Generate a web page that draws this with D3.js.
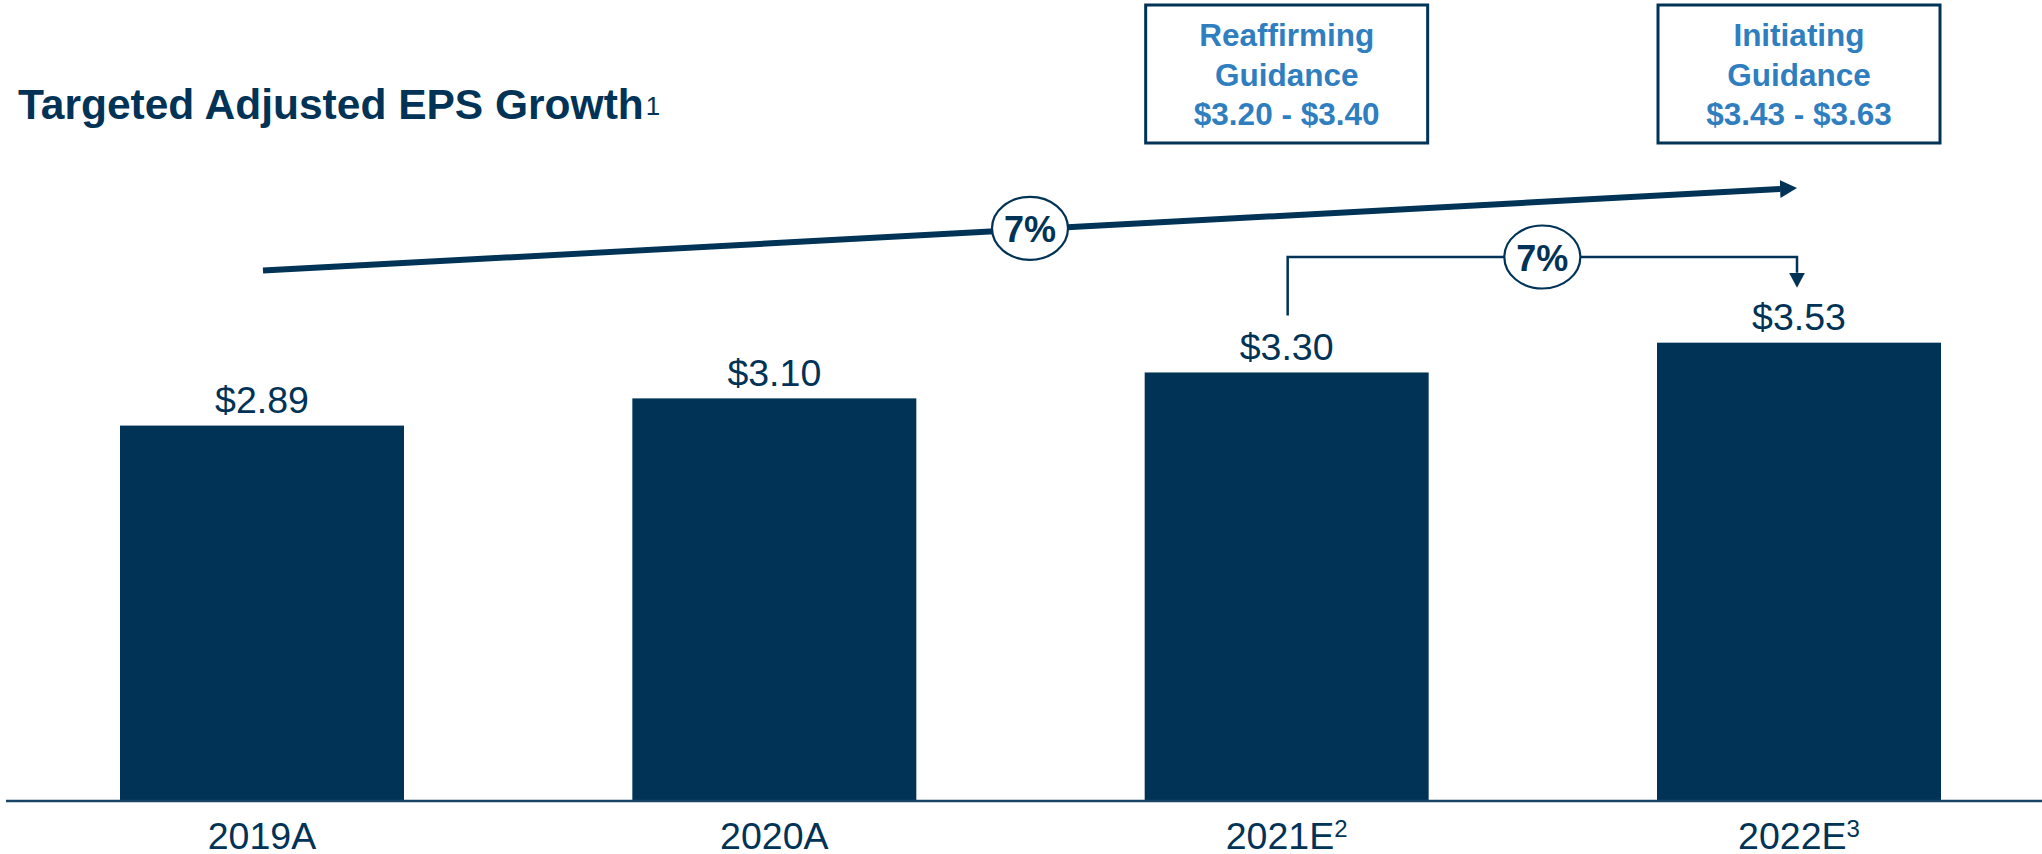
<!DOCTYPE html>
<html>
<head>
<meta charset="utf-8">
<script src="https://cdn.jsdelivr.net/npm/d3@7"></script>
<style>
  body { margin: 0; background: #fff; }
  svg { display: block; font-family: 'Liberation Sans', Arial, sans-serif; }
</style>
</head>
<body>
<svg id="chart"></svg>
<script>
// chart data
const years = ['2019A', '2020A', '2021E', '2022E'];
const yearNotes = ['', '', '2', '3'];
const eps = [2.89, 3.10, 3.30, 3.53];
const guidanceYears = ['2021E', '2022E'];
const guidanceTitles = ['Reaffirming', 'Initiating'];
const guidanceRanges = ['$3.20 - $3.40', '$3.43 - $3.63'];
const growthLabels = ['7%', '7%'];

(function() {

const width = 2042;
const height = 854;
const navy = '#013357';
const blue = '#2f7ec0';

const svg = d3.select('#chart')
  .attr('width', width)
  .attr('height', height);

const data = years.map((d, i) => ({ year: d, note: yearNotes[i], value: eps[i] }));

const x = d3.scaleBand()
  .domain(years)
  .range([120, 1941])
  .paddingInner(0.4457)
  .paddingOuter(0);

const y = d3.scaleLinear()
  .domain([0, 6.175])
  .range([800, 0]);

const cx = d => x(d) + x.bandwidth() / 2;

// title
const title = svg.append('text')
  .attr('x', 18)
  .attr('y', 119)
  .attr('fill', navy)
  .style('font-size', '42.5px')
  .style('font-weight', 'bold')
  .text('Targeted Adjusted EPS Growth');
title.append('tspan')
  .attr('dx', 2)
  .attr('dy', -4)
  .style('font-size', '26px')
  .style('font-weight', 'normal')
  .text('1');

// bars
svg.selectAll('.bar')
  .data(data)
  .enter().append('rect')
    .attr('class', 'bar')
    .attr('x', d => x(d.year))
    .attr('y', d => y(d.value))
    .attr('width', x.bandwidth())
    .attr('height', d => y(0) - y(d.value))
    .attr('fill', navy);

svg.selectAll('.value')
  .data(data)
  .enter().append('text')
    .attr('class', 'value')
    .attr('x', d => cx(d.year))
    .attr('y', d => y(d.value) - 12.5)
    .attr('text-anchor', 'middle')
    .attr('fill', navy)
    .style('font-size', '37.5px')
    .text(d => '$' + d.value.toFixed(2));

// baseline
svg.append('line')
  .attr('x1', 6)
  .attr('x2', width)
  .attr('y1', y(0) + 1)
  .attr('y2', y(0) + 1)
  .attr('stroke', '#1c4466')
  .attr('stroke-width', 2.5);

// category labels
const labels = svg.selectAll('.label')
  .data(data)
  .enter().append('text')
    .attr('class', 'label')
    .attr('x', d => cx(d.year))
    .attr('y', 849)
    .attr('text-anchor', 'middle')
    .attr('fill', navy)
    .style('font-size', '37.5px')
    .text(d => d.year);
labels.filter(d => d.note)
  .append('tspan')
    .attr('dy', -12)
    .style('font-size', '24px')
    .text(d => d.note);

// guidance boxes
const boxes = svg.selectAll('.guide')
  .data(guidanceYears)
  .enter().append('g')
    .attr('class', 'guide');

boxes.append('rect')
  .attr('x', d => x(d) + 1)
  .attr('y', 5)
  .attr('width', x.bandwidth() - 2)
  .attr('height', 138)
  .attr('fill', '#fff')
  .attr('stroke', navy)
  .attr('stroke-width', 3);

boxes.append('text')
  .attr('text-anchor', 'middle')
  .attr('fill', blue)
  .style('font-size', '31.5px')
  .style('font-weight', 'bold')
  .selectAll('tspan')
  .data((d, i) => [guidanceTitles[i], 'Guidance', guidanceRanges[i]].map(t => ({ t: t, year: d })))
  .enter().append('tspan')
    .attr('x', d => cx(d.year))
    .attr('y', (d, i) => 46 + i * 39.5)
    .text(d => d.t);

// arrow markers
const defs = svg.append('defs');
defs.append('marker')
  .attr('id', 'headBig')
  .attr('markerUnits', 'userSpaceOnUse')
  .attr('markerWidth', 20)
  .attr('markerHeight', 20)
  .attr('viewBox', '0 -10 20 20')
  .attr('refX', 0)
  .attr('refY', 0)
  .attr('orient', 'auto')
  .append('path')
    .attr('d', 'M0,-9L17,0L0,9Z')
    .attr('fill', navy);
defs.append('marker')
  .attr('id', 'headSmall')
  .attr('markerUnits', 'userSpaceOnUse')
  .attr('markerWidth', 20)
  .attr('markerHeight', 20)
  .attr('viewBox', '0 -10 20 20')
  .attr('refX', 0)
  .attr('refY', 0)
  .attr('orient', 'auto')
  .append('path')
    .attr('d', 'M0,-8L15,0L0,8Z')
    .attr('fill', navy);

// long-term growth arrow
const x0 = cx(years[0]) + 1;
const y0 = y(eps[0]) - 155;
const x1 = cx(years[3]) - 19;
const y1 = 189;
svg.append('line')
  .attr('x1', x0)
  .attr('y1', y0)
  .attr('x2', x1)
  .attr('y2', y1)
  .attr('stroke', navy)
  .attr('stroke-width', 6)
  .attr('marker-end', 'url(#headBig)');

// year-over-year bracket
const bx0 = cx(years[2]) + 1;
const bx1 = cx(years[3]) - 2;
const by = 257;
svg.append('path')
  .attr('d', `M${bx0},${y(eps[2]) - 57}V${by}H${bx1}V${y(eps[3]) - 70}`)
  .attr('fill', 'none')
  .attr('stroke', navy)
  .attr('stroke-width', 2.5)
  .attr('marker-end', 'url(#headSmall)');

// growth badges
const badges = [
  { cx: 1030, cy: 0, label: growthLabels[0] },
  { cx: (bx0 + bx1) / 2, cy: by, label: growthLabels[1] }
];
badges[0].cy = y0 + (y1 - y0) * (badges[0].cx - x0) / (x1 - x0) - 1;

const badge = svg.selectAll('.badge')
  .data(badges)
  .enter().append('g')
    .attr('class', 'badge')
    .attr('transform', d => `translate(${d.cx},${d.cy})`);

badge.append('ellipse')
  .attr('rx', 38)
  .attr('ry', 31.5)
  .attr('fill', '#fff')
  .attr('stroke', navy)
  .attr('stroke-width', 2.2);

badge.append('text')
  .attr('y', 13.5)
  .attr('text-anchor', 'middle')
  .attr('fill', navy)
  .style('font-size', '36px')
  .style('font-weight', 'bold')
  .text(d => d.label);

})();
</script>
</body>
</html>
